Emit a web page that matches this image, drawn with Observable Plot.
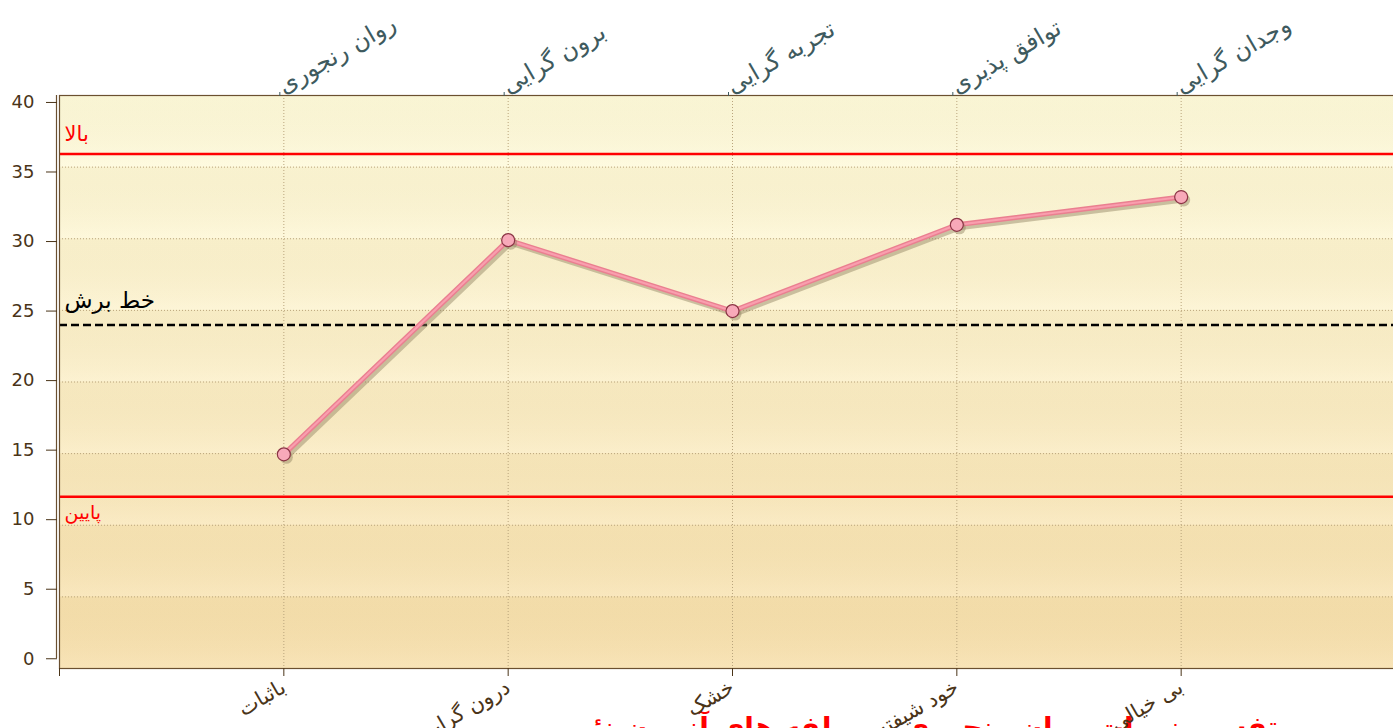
<!DOCTYPE html>
<html><head><meta charset="utf-8">
<script src="https://cdn.jsdelivr.net/npm/d3@7"></script>
<script src="https://cdn.jsdelivr.net/npm/@observablehq/plot@0.6"></script>
<style>
html,body{margin:0;padding:0;background:#fff;overflow:hidden;width:1393px;height:728px;position:relative;}
#chart{position:absolute;left:0;top:0;z-index:2;}
#title{position:absolute;left:575px;top:712px;white-space:nowrap;direction:rtl;font:bold 28px "DejaVu Sans",sans-serif;color:#ff0000;line-height:32px;z-index:1;}
</style></head><body><div id="chart"></div><div id="title">تفسیر نمرات روان رنجوری و مولفه های آزمون نئو</div>
<script>
const positions = [1, 2, 3, 4, 5];
const topLabels = ["روان رنجوری", "برون گرایی", "تجربه گرایی", "توافق پذیری", "وجدان گرایی"];
const bottomLabels = ["باثبات", "درون گرایی", "خشک", "خود شیفته", "بی خیالی"];
const scores = [14.7, 30.1, 25.0, 31.2, 33.2];
const upperLimit = 36.3;
const lowerLimit = 11.65;
const cutoff = 24;
const upperText = "بالا";
const lowerText = "پایین";
const cutoffText = "خط برش";
const yTicks = [0, 5, 10, 15, 20, 25, 30, 35, 40];
const yDomain = [-0.7, 40.5];
const xDomain = [0, 6];
const gridCount = 8;

const edges = d3.range(gridCount + 1).map(k => yDomain[0] + k * (yDomain[1] - yDomain[0]) / gridCount);
const bands = d3.range(gridCount).map(k => ({y1: edges[k], y2: edges[k + 1]}));
const innerEdges = edges.slice(1, -1);
const pts = positions.map((p, i) => ({x: p, y: scores[i]}));
const font = "DejaVu Sans";

const chart = Plot.plot({
  width: 1420,
  height: 705,
  marginLeft: 59,
  marginRight: 15,
  marginTop: 95,
  marginBottom: 37,
  style: {fontFamily: font, overflow: "visible", maxWidth: "none", background: "transparent"},
  x: {domain: xDomain, axis: null},
  y: {domain: yDomain, axis: null},
  marks: [
    Plot.frame({fill: "url(#bgGrad)", stroke: "none"}),
    Plot.rect(bands, {x1: () => xDomain[0], x2: () => xDomain[1], y1: "y1", y2: "y2", fill: "url(#bandGrad)"}),
    Plot.ruleY(innerEdges, {stroke: "#b9a47c", strokeWidth: 1, strokeDasharray: "1,2"}),
    Plot.ruleX(positions, {stroke: "#b9a47c", strokeWidth: 1, strokeDasharray: "1,2"}),
    Plot.ruleY([upperLimit, lowerLimit], {stroke: "#ff0000", strokeWidth: 2.5}),
    Plot.ruleY([cutoff], {stroke: "#000", strokeWidth: 2.5, strokeDasharray: "8,4"}),
    Plot.line(pts, {x: "x", y: "y", stroke: "#8f8060", strokeOpacity: 0.45, strokeWidth: 5, dx: 2.5, dy: 3}),
    Plot.line(pts, {x: "x", y: "y", stroke: "#ea7f90", strokeWidth: 5}),
    Plot.line(pts, {x: "x", y: "y", stroke: "#f99eae", strokeWidth: 2.2}),
    Plot.dot(pts, {x: "x", y: "y", r: 6.5, fill: "#8f8060", fillOpacity: 0.45, stroke: "none", dx: 2.5, dy: 3}),
    Plot.dot(pts, {x: "x", y: "y", r: 6.5, fill: "#f8a9b9", stroke: "#8a3444", strokeWidth: 1.2}),
    Plot.text([upperText], {x: () => xDomain[0], y: () => upperLimit, dx: 5, dy: -20, textAnchor: "start", fill: "#ff0000", fontSize: 21}),
    Plot.text([lowerText], {x: () => xDomain[0], y: () => lowerLimit, dx: 5, dy: 16, textAnchor: "start", fill: "#ff0000", fontSize: 19}),
    Plot.text([cutoffText], {x: () => xDomain[0], y: () => cutoff, dx: 5, dy: -24, textAnchor: "start", fill: "#000", fontSize: 23}),
    Plot.frame({stroke: "#6b5030", strokeWidth: 1.2}),
    Plot.ruleX([xDomain[0]], {y1: () => 0, y2: () => yDomain[1], dx: -3, stroke: "#6b5030", strokeWidth: 1.2}),
    Plot.axisY(yTicks, {anchor: "left", label: null, tickSize: 11, tickPadding: 12, fontSize: 18, color: "#4a3418", dx: -2}),
    Plot.axisX(d3.range(xDomain[0], xDomain[1]), {anchor: "bottom", label: null, tickFormat: d => bottomLabels[d - 1] ?? "", tickRotate: -30, tickSize: 8, tickPadding: 9, fontSize: 21, color: "#4a3418"}),
    Plot.axisX(positions, {anchor: "top", label: null, tickFormat: d => topLabels[d - 1], tickRotate: -30, tickSize: 4, tickPadding: 4, fontSize: 24, color: "#3e5a5e", dx: -4})
  ]
});

const defs = d3.select(chart).insert("defs", ":first-child");
const bg = defs.append("linearGradient").attr("id", "bgGrad").attr("x1", 0).attr("y1", 0).attr("x2", 0).attr("y2", 1);
bg.append("stop").attr("offset", "0%").attr("stop-color", "#fffde0");
bg.append("stop").attr("offset", "45%").attr("stop-color", "#fcf1cc");
bg.append("stop").attr("offset", "100%").attr("stop-color", "#f7dfab");
const bd = defs.append("linearGradient").attr("id", "bandGrad").attr("x1", 0).attr("y1", 0).attr("x2", 0).attr("y2", 1);
bd.append("stop").attr("offset", "0%").attr("stop-color", "#a07820").attr("stop-opacity", 0.06);
bd.append("stop").attr("offset", "100%").attr("stop-color", "#ffffff").attr("stop-opacity", 0.15);

document.getElementById("chart").appendChild(chart);
</script></body></html>
